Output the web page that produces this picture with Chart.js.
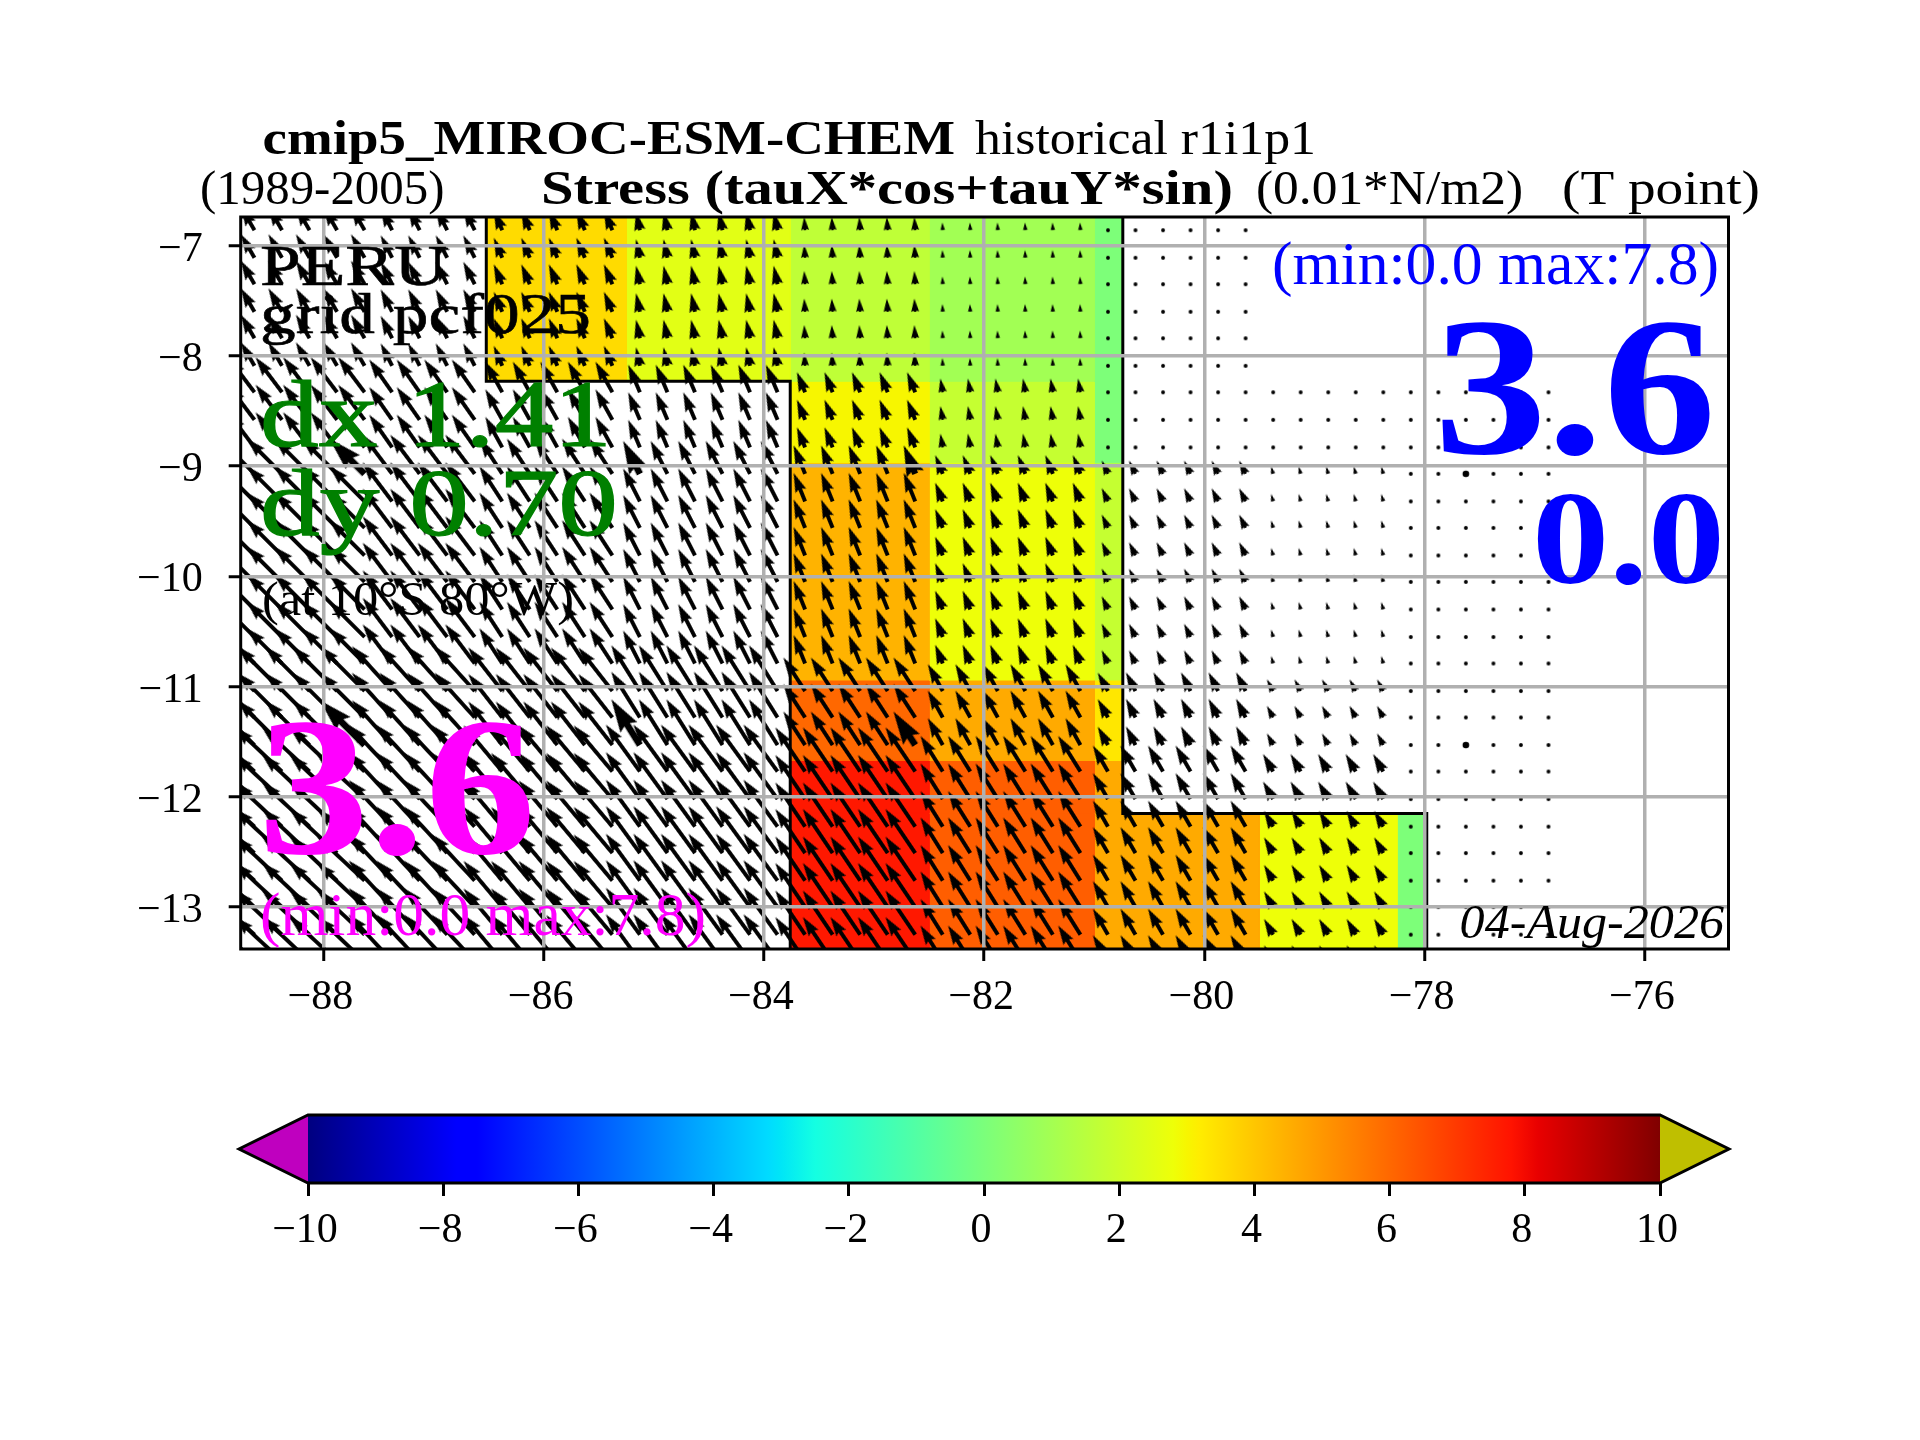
<!DOCTYPE html>
<html>
<head>
<meta charset="utf-8">
<title>cmip5 MIROC-ESM-CHEM stress</title>
<script src="https://cdn.jsdelivr.net/npm/chart.js@4"></script>
<style>
  html, body { margin: 0; background: #fff; }
  #page { position: relative; width: 1920px; height: 1440px; overflow: hidden; }
  canvas { position: absolute; left: 0; }
  #mapChart { top: 0; }
  #barChart { top: 1100px; }
</style>
</head>
<body>
<div id="page">
  <canvas id="mapChart" width="1920" height="1440"></canvas>
  <canvas id="barChart" width="1920" height="200"></canvas>
</div>
<script>
// axis ticks
const lonTicks = [-88, -86, -84, -82, -80, -78, -76];
const latTicks = [-13, -12, -11, -10, -9, -8, -7];
const barTicks = [-10, -8, -6, -4, -2, 0, 2, 4, 6, 8, 10];
const lonRange = [-88.75, -75.24];
const latRange = [-13.38, -6.74];

// coarse model cells, edges
const lonEdges = [-88.75, -87.5, -86.52, -85.25, -83.76, -82.5, -81, -80.74, -79.5, -78.25, -77.98, -75.24];
const latEdges = [-6.74, -8.23, -8.97, -10.94, -11.67, -12.15, -13.38];

// shaded stress per cell (0.01*N/m2), null = no colour
const stressCells = [
  [null, null, 3.56, 2.5, 1.65, 0.95, 0.05, null, null, null, null],
  [null, null, null, null, 3.0, 1.8, 0.05, null, null, null, null],
  [null, null, null, null, 4.4, 2.8, 1.8, null, null, null, null],
  [null, null, null, null, 6.0, 4.6, 3.3, null, null, null, null],
  [null, null, null, null, 7.7, 6.2, 4.6, null, null, null, null],
  [null, null, null, null, 7.7, 6.2, 4.6, 4.6, 2.8, 0.05, null]
];

// wind stress arrows per cell: strength and degrees left of north, null = no arrow
const arrowSpeed = [
  [3.9, 3.6, 3.1, 2.7, 1.9, 1.1, 0.3, 0.2, null, null, null],
  [6.3, 5.7, 5.0, 4.3, 3.1, 2.0, 0.3, 0.2, 0.2, 0.2, 0.2],
  [7.1, 7.0, 6.0, 5.3, 4.4, 2.9, 2.1, 2.1, 1.1, 0.3, 0.2],
  [9.0, 8.6, 7.9, 7.7, 5.7, 4.4, 3.0, 3.0, 1.9, 0.3, 0.2],
  [9.3, 9.1, 8.6, 8.3, 7.6, 6.0, 4.3, 4.3, 2.9, 0.3, 0.2],
  [9.3, 9.1, 8.6, 8.3, 7.6, 6.0, 4.3, 4.3, 2.6, 0.3, 0.2]
];
const arrowAngle = [
  [30, 27, 23, 12, 4, 3, 0, 0, 0, 0, 0],
  [37, 35, 29, 23, 22, 10, 0, 0, 0, 0, 0],
  [45, 37, 33, 27, 22, 22, 25, 26, 15, 0, 0],
  [45, 42, 38, 32, 33, 29, 29, 27, 28, 0, 0],
  [47, 43, 40, 36, 34, 32, 30, 30, 30, 0, 0],
  [47, 43, 40, 36, 34, 32, 30, 30, 30, 0, 0]
];

// arrow positions on the 0.25 degree grid
const arrowLon = [-88.625, -88.375, -88.125, -87.875, -87.625, -87.375, -87.125, -86.875, -86.625, -86.375, -86.125, -85.875,
  -85.625, -85.375, -85.125, -84.875, -84.625, -84.375, -84.125, -83.875, -83.625, -83.375, -83.125, -82.875,
  -82.625, -82.375, -82.125, -81.875, -81.625, -81.375, -81.125, -80.875, -80.625, -80.375, -80.125, -79.875,
  -79.625, -79.375, -79.125, -78.875, -78.625, -78.375, -78.125, -77.875, -77.625, -77.375, -77.125, -76.875];
const arrowLat = [-6.86, -7.11, -7.35, -7.60, -7.84, -8.09, -8.33, -8.58, -8.83, -9.07, -9.32, -9.56, -9.81, -10.05,
  -10.30, -10.55, -10.79, -11.04, -11.28, -11.53, -11.77, -12.02, -12.27, -12.51, -12.76, -13.00, -13.25, -13.49];

// the arrows that come out heavier in the picture
const heavyLon = [-87.625, -85.125, -82.625, -80.125, -77.625];
const heavyLat = [-9.07, -11.53];

// land mask outlines
const westMaskLon = [-86.52, -86.52, -83.76, -83.76];
const westMaskLat = [-6.74, -8.23, -8.23, -13.38];
const eastMaskLon = [-80.74, -80.74, -77.98, -77.98];
const eastMaskLat = [-6.74, -12.15, -12.15, -13.38];

// colour map (matplotlib jet) for the -10..10 range
const jetPos = [0, 0.11, 0.125, 0.34, 0.35, 0.375, 0.64, 0.65, 0.66, 0.89, 0.91, 1];
const jetRed = [0, 0, 0, 0, 0, 0.08, 0.935, 0.968, 1, 1, 0.91, 0.5];
const jetGreen = [0, 0, 0, 0.86, 0.9, 1, 1, 0.963, 0.926, 0.074, 0, 0];
const jetBlue = [0.5, 1, 1, 1, 0.968, 0.887, 0.032, 0, 0, 0, 0, 0];
const barLimits = [-10, 10];
const barExtend = [-11.02, 11.02];

const SERIF = '"Liberation Serif"';
const LINE = 3;
const GRID_LINE = 3.5;

function jetColor(value){
    const t = Math.min(1, Math.max(0, (value - barLimits[0]) / (barLimits[1] - barLimits[0])));
    let k = 0;
    while(k < jetPos.length - 2 && t > jetPos[k + 1]) k++;
    const f = (t - jetPos[k]) / (jetPos[k + 1] - jetPos[k]);
    const mix = ch => Math.round(255 * (ch[k] + (ch[k + 1] - ch[k]) * f));
    return `rgb(${mix(jetRed)},${mix(jetGreen)},${mix(jetBlue)})`;
}

// one filled dataset per colour cell
function cellDatasets(){
    const out = [];
    stressCells.forEach((row, r) => {
        row.forEach((value, c) => {
            if(value === null) return;
            const w = lonEdges[c], e = lonEdges[c + 1], n = latEdges[r], s = latEdges[r + 1];
            out.push({
                data: [{x: w, y: n}, {x: e, y: n}, {x: e, y: s}, {x: w, y: s}, {x: w, y: n}],
                showLine: true, fill: 'shape', pointRadius: 0, tension: 0,
                borderWidth: 1, borderColor: jetColor(value), backgroundColor: jetColor(value),
                order: 3
            });
        });
    });
    return out;
}

function maskDataset(lons, lats){
    return {
        data: lons.map((x, i) => ({x: x, y: lats[i]})),
        showLine: true, fill: false, pointRadius: 0, tension: 0,
        borderWidth: LINE, borderColor: '#000', borderJoinStyle: 'miter',
        order: 2
    };
}

// arrow sprites: tail in the middle of the canvas, pointing up, same build as a quiver arrow
const PX_PER_UNIT = 7;
const sprites = {};
function arrowSprite(speed, heavy){
    const key = speed + (heavy ? 'h' : '');
    if(sprites[key]) return sprites[key];
    const len = speed * PX_PER_UNIT;
    const w = 3.9 * (heavy ? 1.7 : 1);
    const size = 2 * Math.ceil(len + 12);
    const cv = document.createElement('canvas');
    cv.width = size;
    cv.height = size;
    const g = cv.getContext('2d');
    g.translate(size / 2, size / 2);
    g.fillStyle = '#000';
    g.beginPath();
    if(len < w){
        g.arc(0, 0, w / 2, 0, Math.PI * 2);
    }else{
        const k = Math.min(1, len / (5 * w));
        const hl = 5 * w * k, ha = 4.5 * w * k, hw = 3 * w * k, sw = w * k;
        g.moveTo(-sw / 2, 0);
        g.lineTo(-sw / 2, -(len - ha));
        g.lineTo(-hw / 2, -(len - hl));
        g.lineTo(0, -len);
        g.lineTo(hw / 2, -(len - hl));
        g.lineTo(sw / 2, -(len - ha));
        g.lineTo(sw / 2, 0);
        g.closePath();
    }
    g.fill();
    sprites[key] = cv;
    return cv;
}

function groupOf(value, edges, descending){
    for(let k = 0; k < edges.length - 2; k++){
        if(descending ? value > edges[k + 1] : value < edges[k + 1]) return k;
    }
    return edges.length - 2;
}

function arrowDataset(){
    const data = [], styles = [], turns = [];
    arrowLat.forEach(lat => {
        const r = groupOf(lat, latEdges, true);
        arrowLon.forEach(lon => {
            const c = groupOf(lon, lonEdges, false);
            if(arrowSpeed[r][c] === null) return;
            const heavy = heavyLat.includes(lat) && heavyLon.includes(lon);
            data.push({x: lon, y: lat});
            styles.push(arrowSprite(arrowSpeed[r][c], heavy));
            turns.push(-arrowAngle[r][c]);
        });
    });
    return {
        data: data, showLine: false,
        pointStyle: styles, pointRotation: turns,
        pointRadius: 90, pointBorderWidth: 0,
        order: 1
    };
}

// [text, left, right, baseline, size, style, colour, extra stroke]
const notes = [
  ['cmip5_MIROC-ESM-CHEM', 262.6, 955, 154, 48, 'bold', '#000', 0],
  ['historical r1i1p1', 975, 1316, 154, 48, '', '#000', 0],
  ['(1989-2005)', 200, 444.5, 204, 48, '', '#000', 0],
  ['Stress (tauX*cos+tauY*sin)', 541, 1233, 204, 48, 'bold', '#000', 0],
  ['(0.01*N/m2)', 1256, 1523, 204, 48, '', '#000', 0],
  ['(T point)', 1562, 1760, 204, 48, '', '#000', 0],
  ['PERU', 260, 447, 285, 58, '', '#000', 0.6],
  ['grid pcf025', 260, 591, 333, 56, '', '#000', 0.6],
  ['dx 1.41', 260, 612, 446, 95, '', '#008000', 1.2],
  ['dy 0.70', 260, 618, 535, 95, '', '#008000', 1.2],
  ['(at 10°S 80°W)', 262, 574, 615, 48, '', '#000', 0],
  ['3.6', 258, 536, 853, 198, 'bold', '#f0f', 0],
  ['(min:0.0 max:7.8)', 260, 706, 935, 61, '', '#f0f', 0],
  ['(min:0.0 max:7.8)', 1272, 1719, 284, 61, '', '#00f', 0],
  ['3.6', 1434, 1716, 452.7, 198, 'bold', '#00f', 0],
  ['0.0', 1532, 1725, 583, 134, 'bold', '#00f', 0],
  ['04-Aug-2026', 1459.6, 1724, 938, 48, 'italic', '#000', 0]
];

const mapExtras = {
    id: 'mapExtras',
    afterDraw(chart){
        const g = chart.ctx, a = chart.chartArea;
        g.save();
        g.strokeStyle = '#000';
        g.lineWidth = LINE;
        g.strokeRect(a.left, a.top, a.right - a.left, a.bottom - a.top);
        g.textBaseline = 'alphabetic';
        notes.forEach(([text, left, right, base, size, style, color, stroke]) => {
            g.font = `${style} ${size}px ${SERIF}`;
            g.fillStyle = color;
            const sx = (right - left) / g.measureText(text).width;
            g.save();
            g.translate(left, base);
            g.scale(sx, 1);
            g.fillText(text, 0, 0);
            if(stroke){
                g.strokeStyle = color;
                g.lineWidth = stroke;
                g.strokeText(text, 0, 0);
            }
            g.restore();
        });
        g.restore();
    }
};

const minus = v => v < 0 ? '\u2212' + Math.abs(v) : String(v);
const tickFont = {family: SERIF, size: 42};

new Chart(document.getElementById('mapChart'), {
    type: 'scatter',
    data: {
        datasets: [arrowDataset(), maskDataset(westMaskLon, westMaskLat), maskDataset(eastMaskLon, eastMaskLat)].concat(cellDatasets())
    },
    options: {
        responsive: false,
        animation: false,
        devicePixelRatio: 1,
        events: [],
        layout: {padding: {left: 0, right: 191.5, top: 217, bottom: 431}},
        plugins: {legend: {display: false}, tooltip: {enabled: false}},
        scales: {
            x: {
                type: 'linear', min: lonRange[0], max: lonRange[1],
                afterBuildTicks: s => { s.ticks = lonTicks.map(v => ({value: v})); },
                afterFit: s => { s.height = 60; },
                grid: {color: '#b0b0b0', lineWidth: GRID_LINE, z: 1, tickColor: '#000', tickWidth: LINE, tickLength: 12},
                border: {display: false},
                ticks: {callback: minus, font: tickFont, color: '#000', padding: 12, maxRotation: 0, autoSkip: false, labelOffset: -3}
            },
            y: {
                type: 'linear', min: latRange[0], max: latRange[1],
                afterBuildTicks: s => { s.ticks = latTicks.map(v => ({value: v})); },
                afterFit: s => { s.width = 240.7; },
                grid: {color: '#b0b0b0', lineWidth: GRID_LINE, z: 1, tickColor: '#000', tickWidth: LINE, tickLength: 12},
                border: {display: false},
                ticks: {callback: minus, font: tickFont, color: '#000', padding: 26, autoSkip: false, labelOffset: 4}
            }
        }
    },
    plugins: [mapExtras]
});

// colour bar
const barExtras = {
    id: 'barExtras',
    afterDatasetsDraw(chart){
        const g = chart.ctx, a = chart.chartArea, x = chart.scales.x;
        const mid = (a.top + a.bottom) / 2;
        const lo = x.getPixelForValue(barExtend[0]), hi = x.getPixelForValue(barExtend[1]);
        g.save();
        g.beginPath();
        g.moveTo(a.left, a.top);
        g.lineTo(lo, mid);
        g.lineTo(a.left, a.bottom);
        g.closePath();
        g.fillStyle = '#bf00bf';
        g.fill();
        g.beginPath();
        g.moveTo(a.right, a.top);
        g.lineTo(hi, mid);
        g.lineTo(a.right, a.bottom);
        g.closePath();
        g.fillStyle = '#bfbf00';
        g.fill();
        g.beginPath();
        g.moveTo(a.left, a.top);
        g.lineTo(a.right, a.top);
        g.lineTo(hi, mid);
        g.lineTo(a.right, a.bottom);
        g.lineTo(a.left, a.bottom);
        g.lineTo(lo, mid);
        g.closePath();
        g.strokeStyle = '#000';
        g.lineWidth = LINE;
        g.stroke();
        g.restore();
    }
};

function barGradient(ctx){
    const a = ctx.chart.chartArea;
    if(!a) return '#000';
    const grad = ctx.chart.ctx.createLinearGradient(a.left, 0, a.right, 0);
    jetPos.forEach((p, k) => {
        const v = barLimits[0] + p * (barLimits[1] - barLimits[0]);
        grad.addColorStop(p, jetColor(v));
    });
    return grad;
}

new Chart(document.getElementById('barChart'), {
    type: 'bar',
    data: {
        labels: ['stress'],
        datasets: [{data: [barLimits], backgroundColor: barGradient, borderWidth: 0, barPercentage: 1, categoryPercentage: 1}]
    },
    options: {
        indexAxis: 'y',
        responsive: false,
        animation: false,
        devicePixelRatio: 1,
        events: [],
        layout: {padding: {left: 308, right: 260, top: 15, bottom: 57}},
        plugins: {legend: {display: false}, tooltip: {enabled: false}},
        scales: {
            x: {
                type: 'linear', min: barLimits[0], max: barLimits[1],
                afterBuildTicks: s => { s.ticks = barTicks.map(v => ({value: v})); },
                afterFit: s => { s.height = 60; },
                grid: {drawOnChartArea: false, tickColor: '#000', tickWidth: LINE, tickLength: 13},
                border: {display: false},
                ticks: {callback: minus, font: tickFont, color: '#000', padding: 10, maxRotation: 0, autoSkip: false, labelOffset: -3}
            },
            y: {display: false}
        }
    },
    plugins: [barExtras]
});
</script>
</body>
</html>
